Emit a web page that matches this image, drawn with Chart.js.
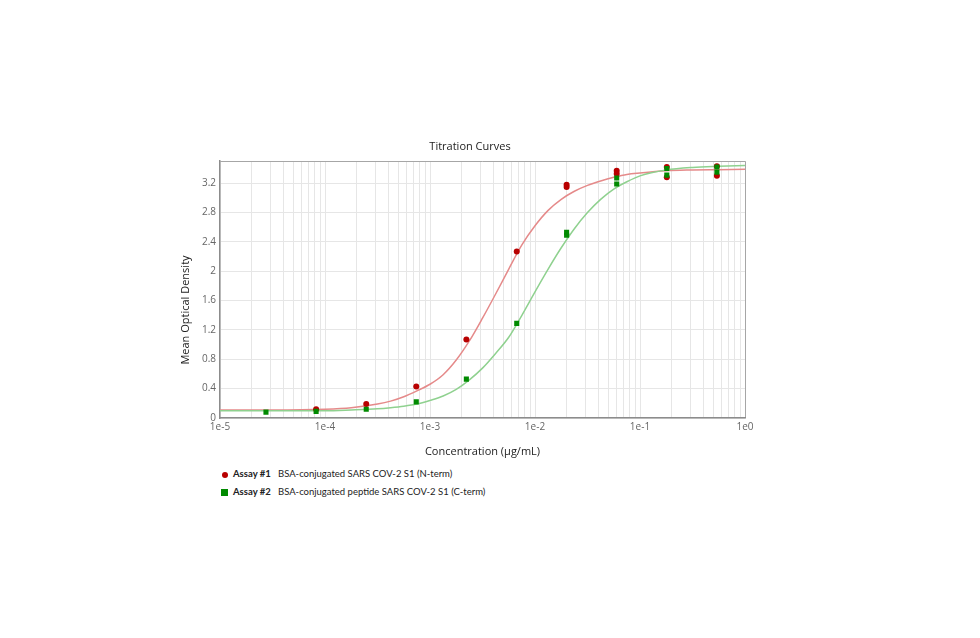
<!DOCTYPE html>
<html>
<head>
<meta charset="utf-8">
<script src="https://cdn.jsdelivr.net/npm/chart.js@4"></script>
<style>
  html, body { margin: 0; padding: 0; background: #ffffff; width: 980px; height: 638px; overflow: hidden; }
  #wrap { position: absolute; left: 170px; top: 134px; width: 600px; height: 330px; }
  .legend { position: absolute; left: 220px; font-family: Lato, "Open Sans", sans-serif; font-size: 9.5px; color: #222; white-space: nowrap; }
  .legend .mk { position: absolute; left: 0; }
  .legend .name { position: absolute; left: 13px; font-weight: bold; }
  .legend .desc { position: absolute; left: 58px; }
  .dot { width: 6px; height: 6px; border-radius: 50%; background: #b80000; }
  .sq { width: 7px; height: 7px; background: #008a00; }
</style>
</head>
<body>
<div id="wrap"><canvas id="c" width="600" height="330"></canvas></div>
<div class="legend" style="top:468px;">
  <div class="mk dot" style="left:2px; top:4px;"></div>
  <span class="name">Assay #1</span>
  <span class="desc">BSA-conjugated SARS COV-2 S1 (N-term)</span>
</div>
<div class="legend" style="top:486px;">
  <div class="mk sq" style="left:1px; top:3px;"></div>
  <span class="name">Assay #2</span>
  <span class="desc">BSA-conjugated peptide SARS COV-2 S1 (C-term)</span>
</div>
<script>
// ---- data ----
const assay1Conc = [0.0000823, 0.000247, 0.00074, 0.00222, 0.0067, 0.02, 0.02, 0.06, 0.06, 0.18, 0.18, 0.54, 0.54];
const assay1OD   = [0.12, 0.19, 0.43, 1.07, 2.27, 3.18, 3.15, 3.37, 3.33, 3.42, 3.28, 3.43, 3.30];

const assay2Conc = [0.0000274, 0.0000823, 0.000247, 0.00074, 0.00222, 0.0067, 0.02, 0.02, 0.06, 0.06, 0.18, 0.18, 0.54, 0.54];
const assay2OD   = [0.08, 0.09, 0.12, 0.22, 0.53, 1.29, 2.53, 2.49, 3.27, 3.19, 3.40, 3.31, 3.42, 3.35];

// fitted curves
const curveConc = [1e-5, 3.162e-5, 1e-4, 1.778e-4, 3.162e-4, 4.217e-4, 5.623e-4, 7.499e-4, 1e-3, 1.334e-3, 1.778e-3,
                   2.371e-3, 3.162e-3, 4.217e-3, 5.623e-3, 7.499e-3, 1e-2, 1.334e-2, 1.778e-2, 2.371e-2, 3.162e-2,
                   4.217e-2, 5.623e-2, 7.499e-2, 0.1, 0.1778, 0.3162, 0.5623, 1];
const assay1Fit = [0.11, 0.11, 0.12, 0.14, 0.19, 0.23, 0.29, 0.37, 0.46, 0.59, 0.79,
                   1.05, 1.36, 1.69, 2.03, 2.36, 2.62, 2.83, 2.98, 3.09, 3.17,
                   3.23, 3.28, 3.32, 3.34, 3.37, 3.38, 3.385, 3.39];
const assay2Fit = [0.10, 0.10, 0.10, 0.11, 0.125, 0.14, 0.16, 0.19, 0.24, 0.30, 0.39,
                   0.52, 0.68, 0.88, 1.10, 1.40, 1.72, 2.03, 2.32, 2.58, 2.80,
                   2.98, 3.12, 3.22, 3.30, 3.38, 3.415, 3.43, 3.44];

const xDecades = [1e-5, 1e-4, 1e-3, 1e-2, 1e-1, 1];
const xTickLabels = ['1e-5', '1e-4', '1e-3', '1e-2', '1e-1', '1e0'];
const yTicks = [0, 0.4, 0.8, 1.2, 1.6, 2, 2.4, 2.8, 3.2, 3.5];
const yTickLabels = ['0', '0.4', '0.8', '1.2', '1.6', '2', '2.4', '2.8', '3.2', ''];

const chartTitle = 'Titration Curves';
const xTitle = 'Concentration (\u00b5g/mL)';
const yTitle = 'Mean Optical Density';

// ---- build ----
const pairs = (xs, ys) => xs.map((x, i) => ({ x: x, y: ys[i] }));

const xTickValues = [];
xDecades.forEach((d, i) => {
  if (i < xDecades.length - 1) {
    for (let m = 1; m <= 9; m++) xTickValues.push(d * m);
  } else {
    xTickValues.push(d);
  }
});
const isDecade = v => xDecades.some(d => Math.abs(v - d) / d < 1e-6);
const decadeLabel = v => {
  const i = xDecades.findIndex(d => Math.abs(v - d) / d < 1e-6);
  return i >= 0 ? xTickLabels[i] : '';
};

const FONT = "'Open Sans', 'Noto Sans', sans-serif";

const yTitlePlugin = {
  id: 'yTitlePlugin',
  afterDraw(chart) {
    const ctx = chart.ctx;
    ctx.save();
    ctx.translate(16, 176);
    ctx.rotate(-Math.PI / 2);
    ctx.font = "11px " + FONT;
    ctx.fillStyle = '#222';
    ctx.textAlign = 'center';
    ctx.textBaseline = 'middle';
    ctx.fillText(yTitle, 0, 0);
    ctx.restore();
  }
};

new Chart(document.getElementById('c'), {
  data: {
    datasets: [
      {
        type: 'scatter', label: 'Assay #2', data: pairs(assay2Conc, assay2OD),
        pointStyle: 'rect', pointRadius: 3.6, pointBackgroundColor: '#008a00', pointBorderColor: '#008a00', pointBorderWidth: 0
      },
      {
        type: 'scatter', label: 'Assay #1', data: pairs(assay1Conc, assay1OD),
        pointStyle: 'circle', pointRadius: 3, pointBackgroundColor: '#b80000', pointBorderColor: '#b80000', pointBorderWidth: 0
      },
      {
        type: 'line', label: 'Assay #2 fit', data: pairs(curveConc, assay2Fit),
        borderColor: '#8fd18f', borderWidth: 1.5, pointRadius: 0, fill: false, cubicInterpolationMode: 'monotone'
      },
      {
        type: 'line', label: 'Assay #1 fit', data: pairs(curveConc, assay1Fit),
        borderColor: '#e58a8a', borderWidth: 1.5, pointRadius: 0, fill: false, cubicInterpolationMode: 'monotone'
      }
    ]
  },
  options: {
    responsive: false,
    animation: false,
    layout: { padding: { left: 25, right: 25, top: 0, bottom: 0 } },
    plugins: {
      legend: { display: false },
      tooltip: { enabled: false },
      title: {
        display: true, text: chartTitle, color: '#222',
        font: { family: FONT, size: 11, weight: 'normal', lineHeight: 1.2 },
        padding: { top: 6, bottom: 8 }
      }
    },
    scales: {
      x: {
        type: 'logarithmic', position: 'bottom', min: 1e-5, max: 1,
        afterBuildTicks: s => { s.ticks = xTickValues.map(v => ({ value: v, major: isDecade(v) })); },
        afterFit: s => { s.height = 46; },
        ticks: {
          autoSkip: false, maxRotation: 0, minRotation: 0, padding: 3,
          color: '#666', font: { family: FONT, size: 10 },
          callback: (v) => decadeLabel(v)
        },
        grid: {
          drawTicks: false,
          color: c => (c.index === xTickValues.length - 1 ? '#a6a6a6' : '#e6e6e6'),
          lineWidth: 1
        },
        border: { display: true, color: '#8c8c8c', width: 1.5 },
        title: {
          display: true, text: xTitle, color: '#222',
          font: { family: FONT, size: 11, lineHeight: 1.2 },
          padding: { top: 0, bottom: 6 }
        }
      },
      y: {
        type: 'linear', position: 'left', min: 0, max: 3.5,
        afterBuildTicks: s => { s.ticks = yTicks.map(v => ({ value: v })); },
        afterFit: s => { s.width = 25; },
        ticks: {
          autoSkip: false, padding: 4, color: '#666', font: { family: FONT, size: 10 },
          callback: (v, i) => yTickLabels[i]
        },
        grid: {
          drawTicks: false,
          color: c => (c.index === yTicks.length - 1 ? '#a6a6a6' : '#e6e6e6'),
          lineWidth: 1
        },
        border: { display: true, color: '#8c8c8c', width: 1.5 }
      }
    }
  },
  plugins: [yTitlePlugin]
});
</script>
</body>
</html>
